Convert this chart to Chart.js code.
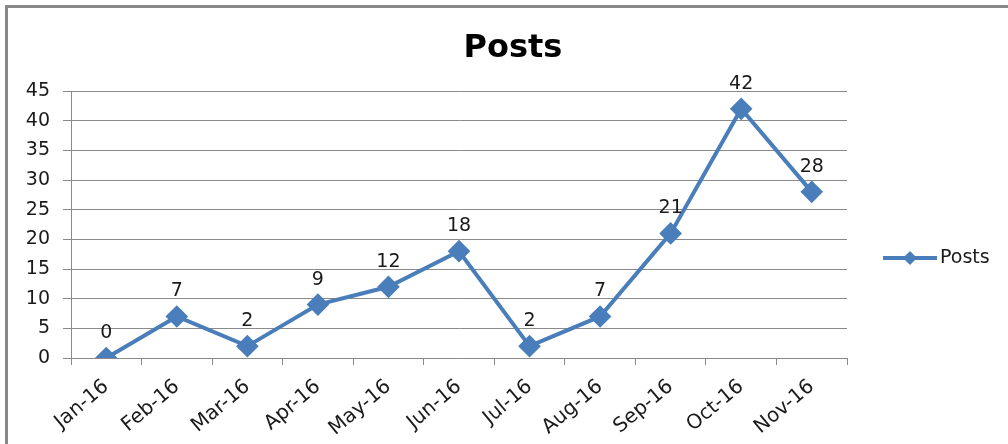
<!DOCTYPE html>
<html>
<head>
<meta charset="utf-8">
<script src="https://cdn.jsdelivr.net/npm/chart.js@4.4.0/dist/chart.umd.min.js"></script>
<style>
  html, body { margin: 0; padding: 0; background: #fff; }
  #wrap { width: 1008px; height: 444px; position: relative; }
</style>
</head>
<body>
<div id="wrap"><canvas id="chart" width="1008" height="444"></canvas></div>
<script>
const months = ['Jan-16', 'Feb-16', 'Mar-16', 'Apr-16', 'May-16', 'Jun-16', 'Jul-16', 'Aug-16', 'Sep-16', 'Oct-16', 'Nov-16'];
const posts = [0, 7, 2, 9, 12, 18, 2, 7, 21, 42, 28];
const yTicks = [0, 5, 10, 15, 20, 25, 30, 35, 40, 45];
const chartTitle = 'Posts';

const BLUE = '#4A7EBB';
const GRID = '#8a8a8a';
const FONT = '"DejaVu Sans", sans-serif';

// outer frame of the chart (top + left edges visible) and the title
const framePlugin = {
    id: 'frame',
    beforeDraw(chart) {
        const c = chart.ctx;
        c.save();
        c.fillStyle = '#fff';
        c.fillRect(0, 0, chart.width, chart.height);
        c.fillStyle = '#888';
        c.fillRect(5, 5, chart.width - 5, 3);
        c.fillRect(5, 5, 3, chart.height - 5);
        c.font = 'bold 32px ' + FONT;
        c.fillStyle = '#000';
        c.textAlign = 'center';
        c.textBaseline = 'alphabetic';
        c.fillText(chartTitle, 513, 57);
        c.restore();
    }
};

// value labels above each point
const valueLabels = {
    id: 'valueLabels',
    afterDatasetsDraw(chart) {
        const c = chart.ctx;
        const meta = chart.getDatasetMeta(0);
        c.save();
        c.font = '19px ' + FONT;
        c.fillStyle = '#1a1a1a';
        c.textAlign = 'center';
        c.textBaseline = 'alphabetic';
        meta.data.forEach((pt, i) => {
            c.fillText(String(posts[i]), pt.x, pt.y - 20);
        });
        c.restore();
    }
};

// Excel-like legend: line with diamond, then name
const sideLegend = {
    id: 'sideLegend',
    afterDraw(chart) {
        const c = chart.ctx;
        const x0 = chart.chartArea.right + 36, y = 258;
        c.save();
        c.strokeStyle = BLUE;
        c.lineWidth = 4;
        c.beginPath();
        c.moveTo(x0, y);
        c.lineTo(x0 + 54, y);
        c.stroke();
        c.fillStyle = BLUE;
        c.beginPath();
        const cx = x0 + 27, r = 7;
        c.moveTo(cx, y - r); c.lineTo(cx + r, y); c.lineTo(cx, y + r); c.lineTo(cx - r, y);
        c.closePath();
        c.fill();
        c.font = '19px ' + FONT;
        c.fillStyle = '#1a1a1a';
        c.textBaseline = 'middle';
        c.fillText(chart.data.datasets[0].label, x0 + 57, y);
        c.restore();
    }
};

new Chart(document.getElementById('chart'), {
    type: 'line',
    data: {
        labels: months,
        datasets: [{
            label: 'Posts',
            data: posts,
            borderColor: BLUE,
            backgroundColor: BLUE,
            borderWidth: 4,
            pointStyle: 'rectRot',
            pointRadius: 8.5,
            pointHoverRadius: 8.5,
            pointBackgroundColor: BLUE,
            pointBorderColor: BLUE,
            tension: 0
        }]
    },
    options: {
        responsive: false,
        animation: false,
        layout: { padding: { left: 0, right: 161, top: 91, bottom: 0 } },
        plugins: {
            legend: { display: false },
            tooltip: { enabled: false },
            title: { display: false }
        },
        scales: {
            y: {
                min: 0,
                max: 45,
                afterFit(scale) { scale.width = 71; },
                afterBuildTicks(scale) { scale.ticks = yTicks.map(v => ({ value: v })); },
                ticks: { color: '#1a1a1a', font: { family: FONT, size: 19 }, padding: 13 },
                grid: { color: GRID, lineWidth: 1, tickLength: 8 },
                border: { color: GRID, width: 1 }
            },
            x: {
                offset: true,
                afterFit(scale) { scale.height = 86; },
                ticks: {
                    color: '#1a1a1a',
                    font: { family: FONT, size: 20 },
                    minRotation: 40,
                    maxRotation: 40,
                    padding: 10,
                    autoSkip: false
                },
                grid: { offset: true, drawOnChartArea: false, color: GRID, tickLength: 7 },
                border: { color: GRID, width: 1 }
            }
        }
    },
    plugins: [framePlugin, valueLabels, sideLegend]
});
</script>
</body>
</html>
